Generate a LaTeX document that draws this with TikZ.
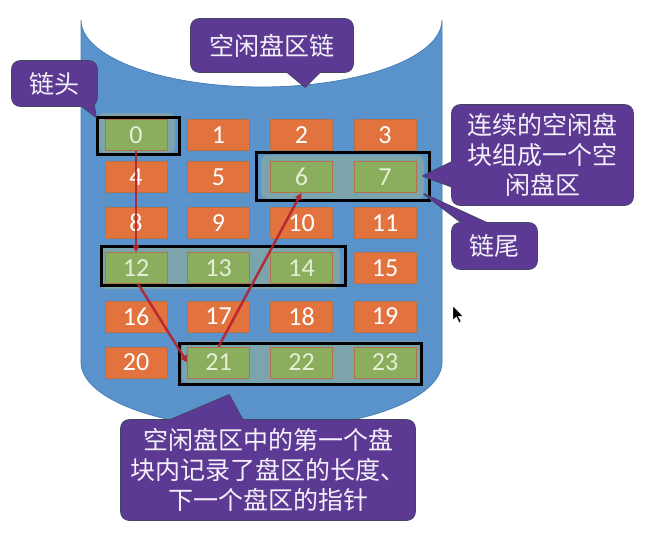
\documentclass[tikz,border=0pt]{standalone}
\usepackage{fontspec}
\setmainfont{Carlito}
\newfontfamily\cjk{Noto Sans CJK SC}
\usetikzlibrary{arrows.meta}
\definecolor{cyl}{HTML}{5A93CB}
\definecolor{cylb}{HTML}{4A80B8}
\definecolor{org}{HTML}{E2733F}
\definecolor{grn}{HTML}{8BAE5E}
\definecolor{boxb}{HTML}{B07448}
\definecolor{grntxt}{HTML}{E4EFD6}
\definecolor{teal}{HTML}{7BA4AC}
\definecolor{tealb}{HTML}{6A97BE}
\definecolor{cp}{HTML}{5C3A93}
\definecolor{cb}{HTML}{404660}
\definecolor{ctxt}{HTML}{F4F0FA}
\definecolor{arr}{HTML}{B4232D}
\begin{document}
\begin{tikzpicture}[x=1pt,y=-1pt,
  obox/.style={draw=boxb,line width=0.5pt,fill=org,minimum width=62pt,minimum height=31pt,inner sep=0pt,text=white,font=\fontsize{26}{26}\selectfont},
  gbox/.style={obox,fill=grn,text=grntxt},
  grp/.style={draw=tealb,line width=0.6pt,fill=teal,rounded corners=6pt},
  blk/.style={draw=black,line width=3pt},
  redarr/.style={draw=arr,opacity=0.9,line width=2.5pt,-{Triangle[length=7pt,width=7pt]}},
  cbord/.style={draw=cb,fill=cb,line width=1.6pt,rounded corners=8pt},
  tbord/.style={draw=cb,fill=cb,line width=1.6pt,line join=round},
  cfill/.style={fill=cp,rounded corners=8pt},
  tfill/.style={fill=cp},
  ctext/.style={text=ctxt,align=center,inner sep=0pt,font=\cjk\fontsize{25}{30}\selectfont}
]
\useasboundingbox (0,0) rectangle (656,533);
% cylinder
\draw[fill=cyl,draw=cylb,line width=0.8pt] (81,20) -- (81,362)
  arc[start angle=180,end angle=0,x radius=180.5,y radius=67] -- (442,20)
  arc[start angle=0,end angle=180,x radius=180.5,y radius=67] -- cycle;
% groups
\draw[grp] (98,113) rectangle (175,153);
\draw[grp] (261,155) rectangle (424,199);
\draw[grp] (100,247) rectangle (340,289);
\draw[grp] (182,341) rectangle (422,383);
% blocks
\foreach \i/\x/\y/\s in {
  0/136/135/gbox, 1/218.5/135/obox, 2/301.5/135/obox, 3/385/135/obox,
  4/136/177/obox, 5/218.5/177/obox, 6/301.5/177/gbox, 7/385/177/gbox,
  8/136/223/obox, 9/218.5/223/obox, 10/301.5/223/obox, 11/385/223/obox,
  12/136/268/gbox, 13/218.5/268/gbox, 14/301.5/268/gbox, 15/385/268/obox,
  16/136/316.5/obox, 17/218.5/316.5/obox, 18/301.5/316.5/obox, 19/385/316.5/obox,
  20/136/362.5/obox, 21/218.5/362.5/gbox, 22/301.5/362.5/gbox, 23/385/362.5/gbox}
  \node[\s] (b\i) at (\x,\y) {\i};
% black frames
\draw[blk] (97,117) rectangle (179,154);
\draw[blk] (256,152) rectangle (429,200);
\draw[blk] (101,246) rectangle (345,285);
\draw[blk] (179,343) rectangle (421,384);
% arrows
\draw[redarr] (b0.south) -- (b12.north);
\draw[redarr] ([xshift=2pt]b12.south) -- (b21.west);
\draw[redarr] (b21.north) -- (b6.south);
% callout 1
\path[cbord] (191,19) rectangle (353,72);
\path[tbord] (280,66) -- (305,87) -- (326,66) -- cycle;
\path[cfill] (191,19) rectangle (353,72);
\path[tfill] (280,66) -- (305,87) -- (326,66) -- cycle;
\node[ctext] (c1) at (272,45.5) {空闲盘区链};
% callout head
\path[cbord] (12,61) rectangle (97,106);
\path[tbord] (74,100) -- (96,117) -- (93,100) -- cycle;
\path[cfill] (12,61) rectangle (97,106);
\path[tfill] (74,100) -- (96,117) -- (93,100) -- cycle;
\node[ctext] (c2) at (54.5,83.5) {链头};
% callout right
\path[cbord] (452,105) rectangle (633,205);
\path[tbord] (458,159) -- (423,176) -- (458,189) -- cycle;
\path[cfill] (452,105) rectangle (633,205);
\path[tfill] (458,159) -- (423,176) -- (458,189) -- cycle;
\node[ctext] (c3) at (542.5,155) {连续的空闲盘\\块组成一个空\\闲盘区};
% callout tail
\path[cbord] (452,223) rectangle (537,269);
\path[tbord] (470,229) -- (424,194) -- (500,229) -- cycle;
\path[cfill] (452,223) rectangle (537,269);
\path[tfill] (470,229) -- (424,194) -- (500,229) -- cycle;
\node[ctext] (c4) at (494.5,246) {链尾};
% callout bottom
\path[cbord] (121,420) rectangle (415,520);
\path[tbord] (156,426) -- (229,395) -- (246,426) -- cycle;
\path[cfill] (121,420) rectangle (415,520);
\path[tfill] (156,426) -- (229,395) -- (246,426) -- cycle;
\node[ctext] (c5) at (268,470) {空闲盘区中的第一个盘\\块内记录了盘区的长度、\\下一个盘区的指针};
% mouse cursor
\draw[fill=black,draw=white,line width=0.4pt] (453,306) -- (453,320) -- (456.5,317) -- (459,322.5) -- (461,321.5) -- (458.5,316.3) -- (463,316.3) -- cycle;
\end{tikzpicture}
\end{document}
